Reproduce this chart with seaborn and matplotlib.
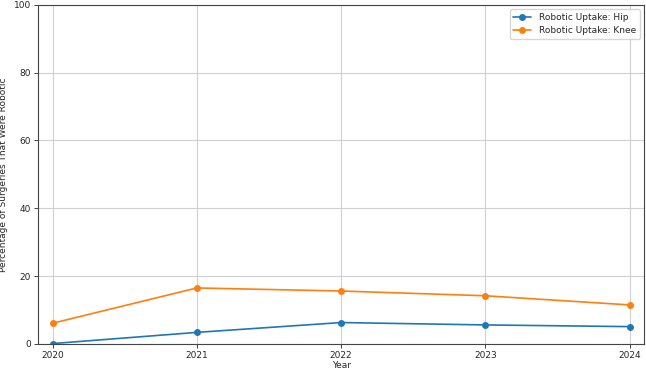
import matplotlib
matplotlib.use("Agg")
import matplotlib.pyplot as plt
import seaborn as sns
import pandas as pd

years = [2020, 2021, 2022, 2023, 2024]
hip = [0.1, 3.4, 6.3, 5.6, 5.1]
knee = [6.1, 16.5, 15.6, 14.2, 11.5]
series_names = ["Robotic Uptake: Hip", "Robotic Uptake: Knee"]

df = pd.DataFrame({
    "Year": years * 2,
    "Value": hip + knee,
    "Series": [series_names[0]] * len(years) + [series_names[1]] * len(years),
})

sns.set_style("ticks")
plt.rcParams["font.family"] = ["DejaVu Sans"]
plt.rcParams["font.size"] = 6.5

fig, ax = plt.subplots(figsize=(6.46, 3.71), dpi=100)
fig.subplots_adjust(left=0.059, right=0.997, top=0.987, bottom=0.073)

sns.lineplot(data=df, x="Year", y="Value", hue="Series", marker="o",
             palette=["#1f77b4", "#ff7f0e"], markersize=5, markeredgewidth=0,
             linewidth=1.2, ax=ax)

ax.set_xlim(2019.9, 2024.1)
ax.set_ylim(0, 100)
ax.set_xticks(years)
ax.set_xticklabels([str(y) for y in years])
ax.set_yticks([0, 20, 40, 60, 80, 100])
ax.grid(True, color="#d0d0d0", linewidth=0.8)
ax.set_xlabel("Year", fontsize=6.5, labelpad=1)
ax.set_ylabel("Percentage of Surgeries That Were Robotic", fontsize=6.5, labelpad=4)
ax.tick_params(labelsize=6.5, length=3, width=0.6, pad=2)
for s in ax.spines.values():
    s.set_color("#444444")
    s.set_linewidth(0.8)
ax.legend(loc="upper right", fontsize=6.5, title=None, frameon=True)

fig.savefig("out.png", dpi=100)
